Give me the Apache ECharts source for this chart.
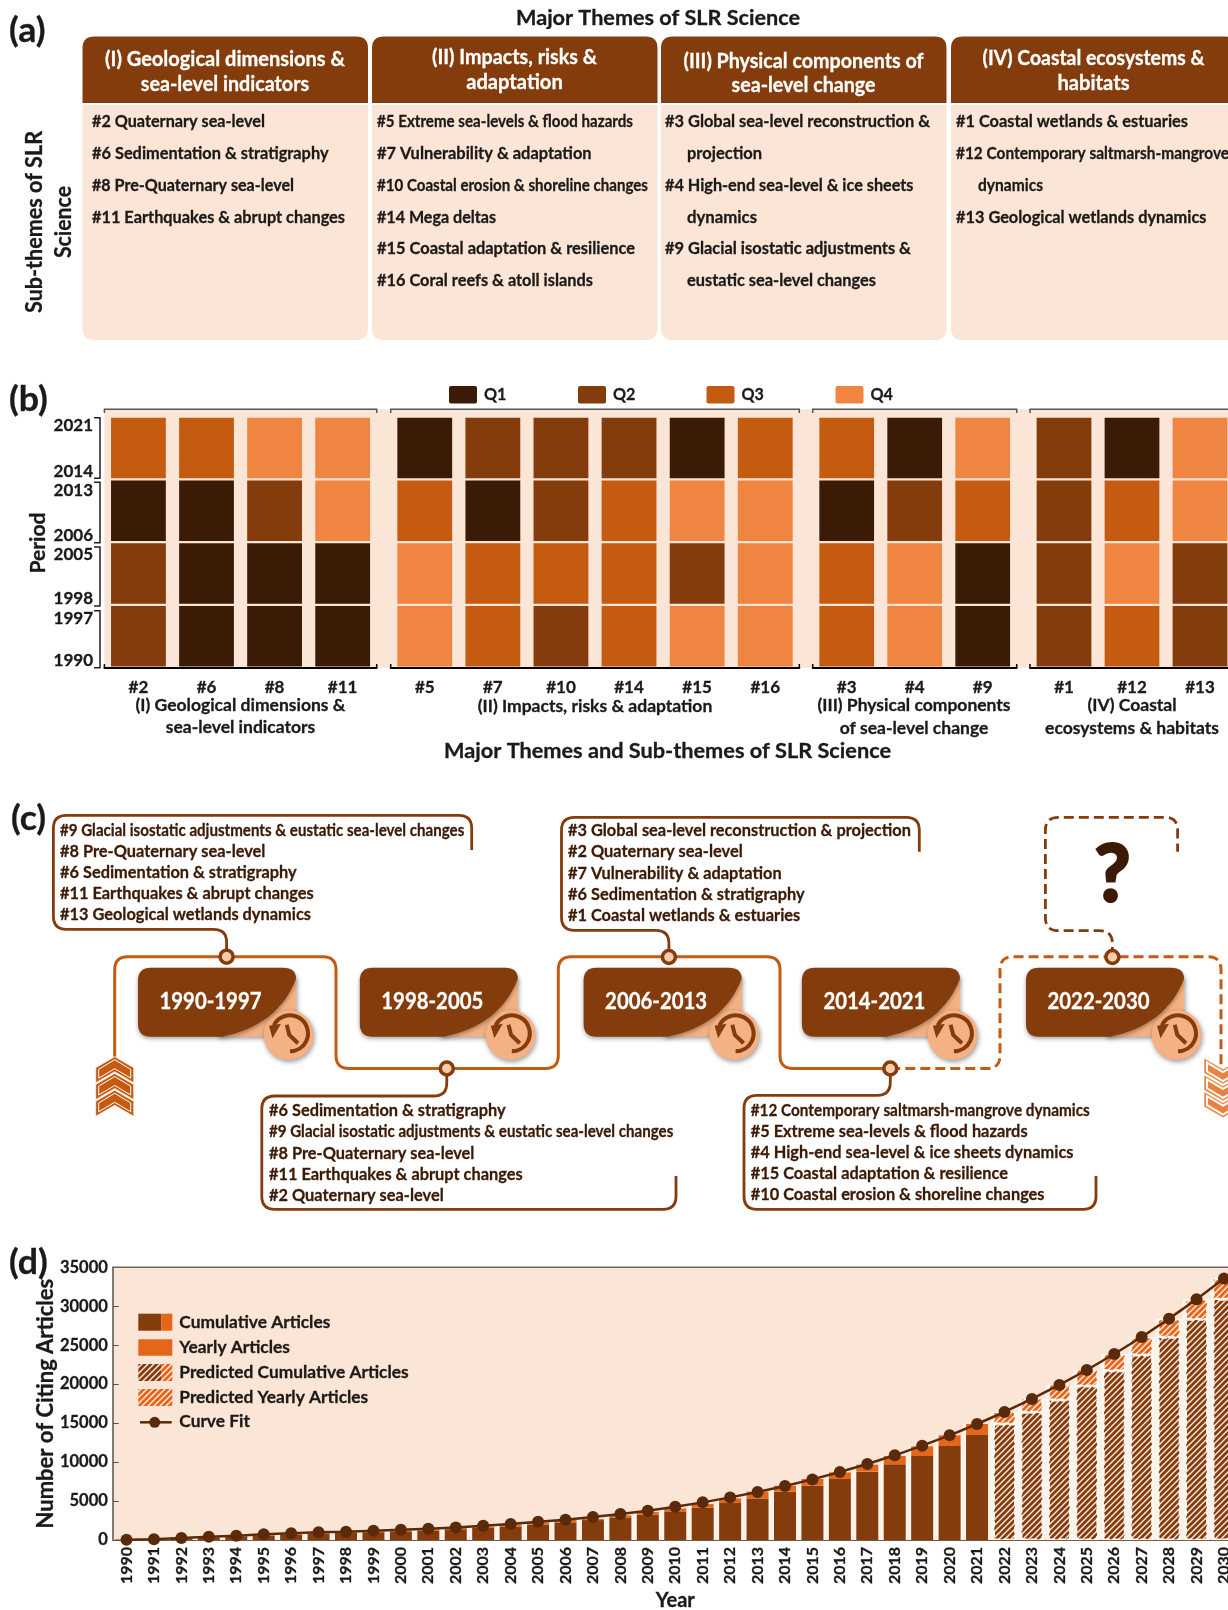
<!DOCTYPE html>
<html>
<head>
<meta charset="utf-8">
<title>SLR Science</title>
<script src="https://cdn.jsdelivr.net/npm/echarts@6/dist/echarts.min.js"></script>
<style>
html, body { margin: 0; padding: 0; background: #fff; overflow: hidden; }
#main { width: 1228px; height: 1610px; }
</style>
</head>
<body>
<div id="main"></div>
<script>
// panel (a)
const themeHeaders = [
  ['(I) Geological dimensions &', 'sea-level indicators'],
  ['(II) Impacts, risks &', 'adaptation'],
  ['(III) Physical components of', 'sea-level change'],
  ['(IV) Coastal ecosystems &', 'habitats']
]
const themeLines = [
  ['#2 Quaternary sea-level', '#6 Sedimentation & stratigraphy', '#8 Pre-Quaternary sea-level', '#11 Earthquakes & abrupt changes'],
  ['#5 Extreme sea-levels & flood hazards', '#7 Vulnerability & adaptation', '#10 Coastal erosion & shoreline changes', '#14 Mega deltas', '#15 Coastal adaptation & resilience', '#16 Coral reefs & atoll islands'],
  ['#3 Global sea-level reconstruction &', '  projection', '#4 High-end sea-level & ice sheets', '  dynamics', '#9 Glacial isostatic adjustments &', '  eustatic sea-level changes'],
  ['#1 Coastal wetlands & estuaries', '#12 Contemporary saltmarsh-mangrove', '  dynamics', '#13 Geological wetlands dynamics']
]

// panel (b) - quartile per sub-theme, rows go 2014-2021 down to 1990-1997
const periods = ['2014-2021', '2006-2013', '1998-2005', '1990-1997']
const subThemes1 = ['#2', '#6', '#8', '#11']
const subThemes2 = ['#5', '#7', '#10', '#14', '#15', '#16']
const subThemes3 = ['#3', '#4', '#9']
const subThemes4 = ['#1', '#12', '#13']
const quartiles1 = [[3, 1, 2, 2], [3, 1, 1, 1], [4, 2, 1, 1], [4, 4, 1, 1]]
const quartiles2 = [[1, 3, 4, 4], [2, 1, 3, 3], [2, 2, 3, 2], [2, 3, 3, 3], [1, 4, 2, 4], [3, 4, 4, 4]]
const quartiles3 = [[3, 1, 3, 3], [1, 2, 4, 4], [4, 3, 1, 1]]
const quartiles4 = [[2, 2, 2, 2], [1, 3, 4, 3], [4, 4, 2, 2]]
const quartileNames = ['Q1', 'Q2', 'Q3', 'Q4']

// panel (c)
const timelinePeriods = ['1990-1997', '1998-2005', '2006-2013', '2014-2021', '2022-2030']
const topics1990 = ['#9 Glacial isostatic adjustments & eustatic sea-level changes', '#8 Pre-Quaternary sea-level', '#6 Sedimentation & stratigraphy', '#11 Earthquakes & abrupt changes', '#13 Geological wetlands dynamics']
const topics1998 = ['#6 Sedimentation & stratigraphy', '#9 Glacial isostatic adjustments & eustatic sea-level changes', '#8 Pre-Quaternary sea-level', '#11 Earthquakes & abrupt changes', '#2 Quaternary sea-level']
const topics2006 = ['#3 Global sea-level reconstruction & projection', '#2 Quaternary sea-level', '#7 Vulnerability & adaptation', '#6 Sedimentation & stratigraphy', '#1 Coastal wetlands & estuaries']
const topics2014 = ['#12 Contemporary saltmarsh-mangrove dynamics', '#5 Extreme sea-levels & flood hazards', '#4 High-end sea-level & ice sheets dynamics', '#15 Coastal adaptation & resilience', '#10 Coastal erosion & shoreline changes']

// panel (d)
const years = []
for (let y = 1990; y <= 2030; y++) years.push(String(y))
const cumulativeArticles = [30, 90, 190, 320, 450, 570, 690, 790, 900, 1000, 1110, 1230, 1380, 1550, 1730, 1980, 2260, 2560, 2905, 3250, 3675, 4145, 4745, 5340, 6200, 6965, 7820, 8770, 9715, 10780, 12065, 13480]
const yearlyArticles = [60, 100, 130, 130, 120, 120, 100, 110, 100, 110, 120, 150, 170, 180, 250, 280, 300, 130, 255, 340, 385, 470, 595, 860, 765, 865, 860, 900, 1065, 1240, 1370, 1410]
const predictedCumulative = [14890, 16390, 17970, 19770, 21735, 23750, 26015, 28325, 30890]
const predictedYearly = [1585, 1750, 1970, 2095, 2140, 2310, 2395, 2565, 2700]
const curveFit = [40, 100, 260, 430, 555, 730, 855, 980, 1070, 1200, 1325, 1450, 1620, 1840, 2050, 2350, 2600, 2950, 3330, 3760, 4270, 4830, 5470, 6150, 6920, 7780, 8720, 9755, 10870, 12110, 13435, 14890, 16430, 18100, 19900, 21820, 23875, 26060, 28410, 30890, 33550]

const DARK = '#3b1a06'
const BROWN = '#843c0c'
const ORANGE = '#c55a11'
const YEARLY = '#e3661a'
const PEACH = '#fbe5d6'
const SALMON = '#f4b183'
const qColors = [DARK, BROWN, ORANGE, '#ef8541']
const FONT = 'Lato'
const INK = '#1c1a18'

const measure = document.createElement('canvas').getContext('2d')

// graphic has no svg path element, so register one that reads M L Q C Z strings
echarts.graphic.registerShape('svgPath', echarts.graphic.extendShape({
  shape: { d: '' },
  buildPath(ctx, shape) {
    const tokens = shape.d.match(/[MLQCZ]|-?[\d.]+/g) || []
    let i = 0
    const num = () => parseFloat(tokens[i++])
    while (i < tokens.length) {
      const cmd = tokens[i++]
      if (cmd === 'M') ctx.moveTo(num(), num())
      else if (cmd === 'L') ctx.lineTo(num(), num())
      else if (cmd === 'Q') ctx.quadraticCurveTo(num(), num(), num(), num())
      else if (cmd === 'C') ctx.bezierCurveTo(num(), num(), num(), num(), num(), num())
      else if (cmd === 'Z') ctx.closePath()
    }
  }
}))

// text helper, fit = target width in px, squeezes the glyphs horizontally
function txt(text, x, y, size, o = {}) {
  let sx = o.sx || 1
  if (o.fit) {
    measure.font = `bold ${size}px ${FONT}`
    sx = o.fit / measure.measureText(text).width
  }
  const color = o.color || INK
  return {
    type: 'text', x, y, z: 6, silent: true,
    rotation: o.rot || 0, scaleX: sx, scaleY: o.sy || 1,
    style: {
      text, x: 0, y: 0, fontFamily: FONT, fontWeight: 'bold', fontSize: size,
      fill: color, stroke: color, lineWidth: o.bold === undefined ? 0.3 : o.bold,
      align: o.align || 'left', verticalAlign: 'middle'
    }
  }
}

function roundedPath(pts, r) {
  let d = `M${pts[0][0]} ${pts[0][1]}`
  for (let i = 1; i < pts.length - 1; i++) {
    const p = pts[i], a = pts[i - 1], b = pts[i + 1]
    const la = Math.hypot(a[0] - p[0], a[1] - p[1]), lb = Math.hypot(b[0] - p[0], b[1] - p[1])
    const r1 = Math.min(r, la / 2), r2 = Math.min(r, lb / 2)
    const s = [p[0] + (a[0] - p[0]) / la * r1, p[1] + (a[1] - p[1]) / la * r1]
    const e = [p[0] + (b[0] - p[0]) / lb * r2, p[1] + (b[1] - p[1]) / lb * r2]
    d += ` L${s[0]} ${s[1]} Q${p[0]} ${p[1]} ${e[0]} ${e[1]}`
  }
  const l = pts[pts.length - 1]
  return d + ` L${l[0]} ${l[1]}`
}

function line(pts, color, width, r, dash) {
  return {
    type: 'svgPath', z: 4, silent: true,
    shape: { d: roundedPath(pts, r) },
    style: { fill: null, stroke: color, lineWidth: width, lineDash: dash || null }
  }
}

const graphics = []

// ---- panel letters
graphics.push(txt('(a)', 9, 31, 34, { sx: 1.05 }))
graphics.push(txt('(b)', 9, 400, 34, { sx: 1.05 }))
graphics.push(txt('(c)', 11, 819, 34, { sx: 1.05 }))
graphics.push(txt('(d)', 9, 1263, 34, { sx: 1.05 }))

// ---- panel (a)
graphics.push(txt('Major Themes of SLR Science', 658, 18, 21, { align: 'center', fit: 284 }))
graphics.push(txt('Sub-themes of SLR', 35, 222, 22, { rot: Math.PI / 2, align: 'center', fit: 182 }))
graphics.push(txt('Science', 64, 222, 22, { rot: Math.PI / 2, align: 'center', fit: 72 }))

const cardX = [82.5, 372, 661, 951]
const headerY = [[59.5, 84.5], [57.5, 82.5], [61, 85.5], [58, 83.5]]
const headerFit = [[240, 168.4], [165, 96.5], [240, 143.8], [221.8, 72]]
const lineX = [92, 377, 665, 956]
const lineFit = [
  [173, 236.5, 202, 253],
  [256, 214.6, 271, 119, 258, 216],
  [265, 75, 248.5, 70, 246, 189],
  [232, 273, 65, 250.5]
]
themeHeaders.forEach((h, i) => {
  const x = cardX[i]
  graphics.push({
    type: 'svgPath', z: 2, silent: true,
    shape: { d: `M${x} 105 L${x + 285.5} 105 L${x + 285.5} 328 Q${x + 285.5} 340 ${x + 273.5} 340 L${x + 12} 340 Q${x} 340 ${x} 328 Z` },
    style: { fill: PEACH }
  })
  graphics.push({
    type: 'svgPath', z: 2, silent: true,
    shape: { d: `M${x} 103 L${x} 48 Q${x} 36.5 ${x + 12} 36.5 L${x + 273.5} 36.5 Q${x + 285.5} 36.5 ${x + 285.5} 48 L${x + 285.5} 103 Z` },
    style: { fill: BROWN }
  })
  h.forEach((t, j) => {
    graphics.push(txt(t, x + 142.5, headerY[i][j], 20.5, { align: 'center', color: '#fff', fit: headerFit[i][j] }))
  })
  themeLines[i].forEach((t, j) => {
    const indent = t.startsWith('  ')
    graphics.push(txt(t.trim(), lineX[i] + (indent ? 22 : 0), 122 + j * 31.7, 17, { fit: lineFit[i][j] }))
  })
})

// ---- panel (b) furniture
graphics.push({ type: 'rect', z: -1, silent: true, shape: { x: 104.4, y: 409.3, width: 1130, height: 258.4 }, style: { fill: PEACH } })
const groupSpans = [[104.4, 376.7], [390.7, 799.3], [812.7, 1016.7], [1030, 1240]]
groupSpans.forEach(s => {
  graphics.push({
    type: 'polyline', z: 3, silent: true,
    shape: { points: [[s[0], 413], [s[0], 409.3], [s[1], 409.3], [s[1], 413]] },
    style: { fill: null, stroke: '#555', lineWidth: 1.5 }
  })
  graphics.push({
    type: 'polyline', z: 3, silent: true,
    shape: { points: [[s[0], 664], [s[0], 667.7]] }, style: { fill: null, stroke: '#000', lineWidth: 1.5 }
  })
  graphics.push({
    type: 'polyline', z: 3, silent: true,
    shape: { points: [[s[1], 664], [s[1], 667.7]] }, style: { fill: null, stroke: '#000', lineWidth: 1.5 }
  })
})
const bracketY = [[417.7, 478.3], [482.3, 542.7], [547, 606], [610.7, 667.7]]
periods.forEach((p, i) => {
  const [y0, y1] = bracketY[i]
  const [from, to] = p.split('-')
  graphics.push({
    type: 'polyline', z: 3, silent: true,
    shape: { points: [[94, y0], [100, y0], [100, y1], [94, y1]] },
    style: { fill: null, stroke: '#222', lineWidth: 1.5 }
  })
  graphics.push(txt(to, 93, y0 + 8, 17, { align: 'right', sx: 1 }))
  graphics.push(txt(from, 93, y1 - 7, 17, { align: 'right', sx: 1 }))
})
graphics.push(txt('Period', 38, 543, 21, { rot: Math.PI / 2, align: 'center', fit: 61 }))

const legendX = [449, 578, 706.5, 835.5]
quartileNames.forEach((q, i) => {
  graphics.push({ type: 'rect', z: 3, silent: true, shape: { x: legendX[i], y: 386, width: 28, height: 17.5, r: 2 }, style: { fill: qColors[i] } })
  graphics.push(txt(q, legendX[i] + 35, 394.5, 17, { sx: 0.95 }))
})

const groupTitles = [
  [['(I) Geological dimensions &', 240.5, 705], ['sea-level indicators', 240.5, 727.7]],
  [['(II) Impacts, risks & adaptation', 595, 706.7]],
  [['(III) Physical components', 914, 705], ['of sea-level change', 914, 728]],
  [['(IV) Coastal', 1132, 705], ['ecosystems & habitats', 1132, 728]]
]
groupTitles.forEach(g => g.forEach(t => graphics.push(txt(t[0], t[1], t[2], 17.5, { align: 'center', sx: 1 }))))
graphics.push(txt('Major Themes and Sub-themes of SLR Science', 667.5, 751.7, 21, { align: 'center', fit: 447 }))

// ---- panel (c)
const solidRoute = [[114.7, 1056.7], [114.7, 956.7], [336, 956.7], [336, 1068.5], [558.3, 1068.5], [558.3, 956.7], [780, 956.7], [780, 1068.5], [890.3, 1068.5]]
const dashedRoute = [[890.3, 1068.5], [1000, 1068.5], [1000, 956.7], [1221, 956.7], [1221, 1066.7]]
graphics.push(line(solidRoute, ORANGE, 3, 13))
graphics.push(line(dashedRoute, ORANGE, 3, 13, [10, 5]))
graphics.push(line([[471.7, 850], [471.7, 815.3], [53.4, 815.3], [53.4, 929.3], [226.6, 929.3], [226.6, 956.7]], BROWN, 2.8, 13))
graphics.push(line([[446.8, 1068.5], [446.8, 1096], [261.8, 1096], [261.8, 1209.3], [676, 1209.3], [676, 1176]], BROWN, 2.8, 13))
graphics.push(line([[919.3, 851.7], [919.3, 817.3], [561.5, 817.3], [561.5, 930.3], [668.9, 930.3], [668.9, 957]], BROWN, 2.8, 13))
graphics.push(line([[890.3, 1068.5], [890.3, 1095.3], [744, 1095.3], [744, 1209.3], [1096, 1209.3], [1096, 1176]], BROWN, 2.8, 13))
graphics.push(line([[1112.4, 957], [1112.4, 930.7], [1045.4, 930.7], [1045.4, 817.3], [1177.6, 817.3], [1177.6, 851.7]], BROWN, 2.8, 13, [10, 5]))

;[[226.6, 956.7], [446.8, 1068.5], [668.9, 957], [890.3, 1068.5], [1112.4, 957]].forEach(p => {
  graphics.push({ type: 'circle', z: 5, silent: true, shape: { cx: p[0], cy: p[1], r: 6.5 }, style: { fill: '#f8cbad', stroke: BROWN, lineWidth: 3.5 } })
})

function topicBlock(lines, x, y) {
  lines.forEach((t, i) => {
    let sx = 0.935
    if (t.startsWith('#9 ')) sx = 0.863
    if (t.startsWith('#12 ')) sx = 0.875
    graphics.push(txt(t, x, y + i * 21.2, 17.5, { color: DARK, sx }))
  })
}
topicBlock(topics1990, 60, 830)
topicBlock(topics1998, 269, 1110.5)
topicBlock(topics2006, 568, 830.5)
topicBlock(topics2014, 750.7, 1110)
graphics.push(txt('?', 1112.4, 876, 78, { align: 'center', color: DARK, bold: 3 }))

const timeCardX = [138, 359.8, 583.6, 801.9, 1026]
timelinePeriods.forEach((t, i) => {
  const x = timeCardX[i], top = 967.7, b = 1036.7
  const shadow = { shadowBlur: 5, shadowColor: 'rgba(0,0,0,0.4)', shadowOffsetX: 1, shadowOffsetY: 2 }
  graphics.push({ type: 'rect', z: 3, silent: true, shape: { x: x + 80, y: top + 8, width: 78, height: 61 }, style: Object.assign({ fill: SALMON }, shadow) })
  graphics.push({ type: 'circle', z: 3, silent: true, shape: { cx: x + 150.7, cy: 1035, r: 25 }, style: Object.assign({ fill: SALMON }, shadow) })
  graphics.push({
    type: 'svgPath', z: 3, silent: true,
    shape: { d: `M${x} ${top + 13} Q${x} ${top} ${x + 13} ${top} L${x + 145} ${top} Q${x + 158} ${top} ${x + 158} ${top + 11} C${x + 146} ${top + 42} ${x + 122} ${b - 8} ${x + 84} ${b} L${x + 13} ${b} Q${x} ${b} ${x} ${b - 13} Z` },
    style: Object.assign({ fill: BROWN }, { shadowBlur: 4, shadowColor: 'rgba(0,0,0,0.35)', shadowOffsetY: 2 })
  })
  graphics.push(txt(t, x + 72.5, 1001.7, 22, { align: 'center', color: '#fff', fit: 102 }))
  // clock icon
  const cx = x + 152, cy = 1033.3
  graphics.push({
    type: 'arc', z: 4, silent: true,
    shape: { cx, cy, r: 18, startAngle: 3.6, endAngle: Math.PI * 2.5, clockwise: true },
    style: { fill: null, stroke: BROWN, lineWidth: 4 }
  })
  graphics.push({
    type: 'polygon', z: 4, silent: true,
    shape: { points: [[cx - 21, cy - 7.5], [cx - 9, cy - 9.5], [cx - 17.5, cy + 5]] },
    style: { fill: BROWN }
  })
  graphics.push({
    type: 'polyline', z: 4, silent: true,
    shape: { points: [[cx - 3.3, cy - 8.5], [cx - 0.7, cy + 1.7], [cx + 8, cy + 10]] },
    style: { fill: null, stroke: BROWN, lineWidth: 4 }
  })
})

function chevron(cx, y, dir, fill, inner) {
  // dir 1 points up, -1 points down, y is the tip
  const w = 19, shoulder = 11, h = 26
  const p = (dx, dy) => [cx + dx, y + dir * dy]
  graphics.push({
    type: 'polygon', z: 4, silent: true,
    shape: { points: [p(0, 0), p(w, shoulder), p(w, h), p(0, h - shoulder), p(-w, h), p(-w, shoulder)] },
    style: { fill, stroke: '#fff', lineWidth: 0.6 }
  })
  graphics.push({
    type: 'polygon', z: 4, silent: true,
    shape: { points: [p(0, 3), p(w - 3, shoulder + 1.6), p(w - 3, h - 4.5), p(0, h - shoulder - 3), p(-w + 3, h - 4.5), p(-w + 3, shoulder + 1.6)] },
    style: { fill: null, stroke: '#fff', lineWidth: inner }
  })
}
;[2, 1, 0].forEach(i => chevron(114.7, 1056.7 + i * 16.8, 1, ORANGE, 1))
;[2, 1, 0].forEach(i => chevron(1223, 1117.7 - i * 16.8, -1, '#e8833f', 2))

// ---- panel (d) legend
function hatchTile(bg) {
  const c = document.createElement('canvas')
  c.width = 6; c.height = 6
  const g = c.getContext('2d')
  g.fillStyle = bg
  g.fillRect(0, 0, 6, 6)
  g.strokeStyle = '#fdf1e7'
  g.lineWidth = 1.4
  g.beginPath()
  g.moveTo(-1, 7); g.lineTo(7, -1)
  g.moveTo(-1, 1); g.lineTo(1, -1)
  g.moveTo(5, 7); g.lineTo(7, 5)
  g.stroke()
  return { image: c, repeat: 'repeat' }
}
const hatchBrown = hatchTile(BROWN)
const hatchOrange = hatchTile(YEARLY)

const legX = 138.3, legW = 34
graphics.push({ type: 'rect', z: 5, silent: true, shape: { x: legX, y: 1313.7, width: 23, height: 17 }, style: { fill: BROWN } })
graphics.push({ type: 'rect', z: 5, silent: true, shape: { x: legX + 23, y: 1313.7, width: legW - 23, height: 17 }, style: { fill: YEARLY } })
graphics.push({ type: 'rect', z: 5, silent: true, shape: { x: legX, y: 1339.3, width: legW, height: 16.5 }, style: { fill: YEARLY } })
graphics.push({ type: 'rect', z: 5, silent: true, shape: { x: legX, y: 1364, width: 23, height: 17 }, style: { fill: hatchBrown } })
graphics.push({ type: 'rect', z: 5, silent: true, shape: { x: legX + 23, y: 1364, width: legW - 23, height: 17 }, style: { fill: hatchOrange } })
graphics.push({ type: 'rect', z: 5, silent: true, shape: { x: legX, y: 1389, width: legW, height: 17 }, style: { fill: hatchOrange } })
graphics.push({ type: 'line', z: 5, silent: true, shape: { x1: 140, y1: 1422.3, x2: 171.7, y2: 1422.3 }, style: { stroke: '#5a2a0a', lineWidth: 2.5 } })
graphics.push({ type: 'circle', z: 5, silent: true, shape: { cx: 154.7, cy: 1422.3, r: 5.5 }, style: { fill: '#5a2a0a' } })
;[['Cumulative Articles', 1322], ['Yearly Articles', 1347], ['Predicted Cumulative Articles', 1372.3], ['Predicted Yearly Articles', 1397], ['Curve Fit', 1421]].forEach(t => {
  graphics.push(txt(t[0], 179.3, t[1], 17.5, { sx: 0.99 }))
})
graphics.push({ type: 'line', z: 5, silent: true, shape: { x1: 112.8, y1: 1267.3, x2: 1228, y2: 1267.3 }, style: { stroke: '#666', lineWidth: 1.5 } })

// ---- grids, axes, series
const heatGroups = [
  { names: subThemes1, q: quartiles1, left: 104.4, width: 272.3 },
  { names: subThemes2, q: quartiles2, left: 390.7, width: 408.6 },
  { names: subThemes3, q: quartiles3, left: 812.7, width: 204 },
  { names: subThemes4, q: quartiles4, left: 1030, width: 204 }
]

const renderCell = (params, api) => {
  const c = api.coord([api.value(0), api.value(1)])
  const s = api.size([1, 1])
  const w = s[0] * 0.805, h = s[1] * 0.965
  return { type: 'rect', shape: { x: c[0] - w / 2, y: c[1] - h / 2, width: w, height: h }, style: { fill: qColors[api.value(2) - 1] } }
}

const grids = [], xAxes = [], yAxes = [], series = []
heatGroups.forEach((g, i) => {
  grids.push({ left: g.left, width: g.width, top: 416.6, height: 251.1, outerBoundsMode: 'none' })
  xAxes.push({
    type: 'category', gridIndex: i, data: g.names,
    axisTick: { show: false },
    axisLine: { lineStyle: { color: '#000', width: 2 } },
    axisLabel: { margin: 11, fontFamily: FONT, fontWeight: 'bold', fontSize: 17, color: INK, interval: 0, textBorderColor: INK, textBorderWidth: 0.3 }
  })
  yAxes.push({ type: 'category', gridIndex: i, data: periods, inverse: true, show: false })
  const cells = []
  g.q.forEach((col, x) => col.forEach((v, y) => cells.push([x, y, v])))
  series.push({
    type: 'custom', xAxisIndex: i, yAxisIndex: i, data: cells, renderItem: renderCell,
    encode: { x: 0, y: 1 }, silent: true
  })
})

const actualCount = cumulativeArticles.length
const predictedCount = predictedCumulative.length
const padAfter = a => a.concat(new Array(predictedCount).fill(null))
const padBefore = a => new Array(actualCount).fill(null).concat(a)
const totals = years.map((y, i) => i < actualCount
  ? cumulativeArticles[i] + yearlyArticles[i]
  : predictedCumulative[i - actualCount] + predictedYearly[i - actualCount])

grids.push({ left: 112.8, width: 1124.9, top: 1267.3, height: 272.7, show: true, backgroundColor: PEACH, borderWidth: 0, outerBoundsMode: 'none' })
xAxes.push({
  type: 'category', gridIndex: 4, data: years,
  name: 'Year', nameLocation: 'middle', nameGap: 51,
  nameTextStyle: { fontFamily: FONT, fontWeight: 'bold', fontSize: 20, color: INK, textBorderColor: INK, textBorderWidth: 0.3 },
  axisTick: { show: false },
  axisLine: { lineStyle: { color: '#4a2a10', width: 1.5 } },
  axisLabel: { rotate: 90, interval: 0, margin: 7, fontFamily: FONT, fontWeight: 'bold', fontSize: 16, color: INK, textBorderColor: INK, textBorderWidth: 0.3 }
})
yAxes.push({
  type: 'value', gridIndex: 4, min: 0, max: 35000, interval: 5000,
  name: 'Number of Citing Articles', nameLocation: 'middle', nameGap: 56, nameMoveOverlap: false,
  nameTextStyle: { fontFamily: FONT, fontWeight: 'bold', fontSize: 22, color: INK, textBorderColor: INK, textBorderWidth: 0.3 },
  splitLine: { show: false },
  axisLine: { show: true, lineStyle: { color: '#555', width: 1.5 } },
  axisTick: { show: true, inside: true, length: 6, lineStyle: { color: '#555' } },
  axisLabel: { margin: 5, fontFamily: FONT, fontWeight: 'bold', fontSize: 16.5, color: INK, textBorderColor: INK, textBorderWidth: 0.3, formatter: v => String(v) }
})

// pale band behind each stacked bar, shows in the gaps between the bars
series.push({
  type: 'custom', xAxisIndex: 4, yAxisIndex: 4, z: 1, silent: true,
  data: totals.map((v, i) => [i, v]), encode: { x: 0, y: 1 },
  renderItem: (params, api) => {
    const top = api.coord([api.value(0), api.value(1)])
    const base = api.coord([api.value(0), 0])
    const w = api.size([1, 0])[0]
    return { type: 'rect', shape: { x: top[0] - w / 2, y: top[1], width: w, height: base[1] - top[1] }, style: { fill: '#fdf3ea' } }
  }
})
const barBase = { type: 'bar', xAxisIndex: 4, yAxisIndex: 4, stack: 'articles', barWidth: 22, silent: true, z: 2 }
const dashedEdge = { borderColor: '#fff', borderWidth: 1.5, borderType: 'dashed' }
series.push(Object.assign({}, barBase, { name: 'Cumulative Articles', data: padAfter(cumulativeArticles), itemStyle: { color: BROWN } }))
series.push(Object.assign({}, barBase, { name: 'Yearly Articles', data: padAfter(yearlyArticles), itemStyle: { color: YEARLY } }))
series.push(Object.assign({}, barBase, { name: 'Predicted Cumulative Articles', data: padBefore(predictedCumulative), itemStyle: Object.assign({ color: hatchBrown }, dashedEdge) }))
series.push(Object.assign({}, barBase, { name: 'Predicted Yearly Articles', data: padBefore(predictedYearly), itemStyle: Object.assign({ color: hatchOrange }, dashedEdge) }))
series.push({
  name: 'Curve Fit', type: 'line', xAxisIndex: 4, yAxisIndex: 4, data: curveFit, z: 5, silent: true,
  symbol: 'circle', symbolSize: 12, showSymbol: true,
  lineStyle: { color: '#5a2a0a', width: 2.5 }, itemStyle: { color: '#5a2a0a' }
})

const chart = echarts.init(document.getElementById('main'))
chart.setOption({
  animation: false,
  backgroundColor: '#fff',
  graphic: { elements: graphics },
  grid: grids,
  xAxis: xAxes,
  yAxis: yAxes,
  series
})
</script>
</body>
</html>
